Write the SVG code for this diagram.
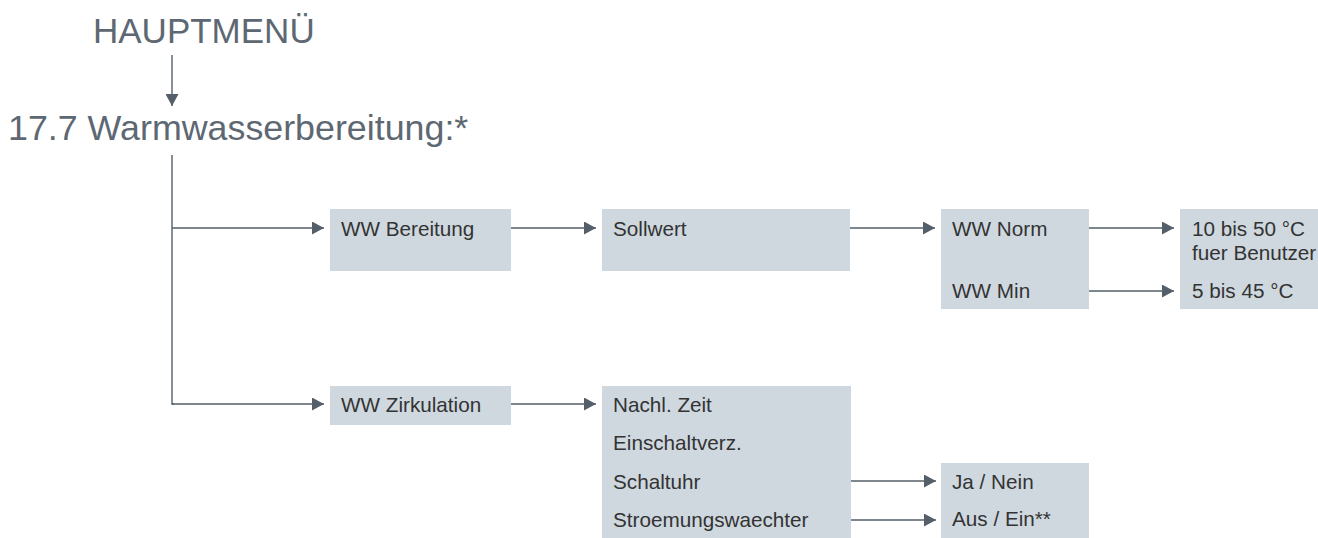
<svg xmlns="http://www.w3.org/2000/svg" width="1318" height="538" viewBox="0 0 1318 538">
<style>
.title{font-family:"Liberation Sans",Arial,sans-serif;font-size:35px;fill:#5d6873;}
.lbl{font-family:"Liberation Sans",Arial,sans-serif;font-size:20.7px;fill:#333333;}
.box{fill:#cfd8df;}
.ln{stroke:#555f69;stroke-width:1.4;fill:none;}
.arr{stroke:#555f69;stroke-width:1.4;fill:none;marker-end:url(#ah);}
</style>
<defs>
<marker id="ah" markerUnits="userSpaceOnUse" markerWidth="12" markerHeight="13" refX="12" refY="6.5" orient="auto">
<path d="M0,0 L12,6.5 L0,13 z" fill="#555f69"/>
</marker>
</defs>
<rect width="1318" height="538" fill="#ffffff"/>
<g id="hauptmenu"><text class="title" x="93" y="43">HAUPTMENÜ</text></g>
<g id="warmwasser"><text class="title" x="8" y="140" style="font-size:35.8px">17.7 Warmwasserbereitung:*</text></g>
<g id="connectors">
<line class="arr" x1="172" y1="55" x2="172" y2="106"/>
<polyline class="ln" points="172,155 172,404 174,404"/>
<line class="arr" x1="172" y1="228" x2="324" y2="228"/>
<line class="arr" x1="172" y1="404" x2="324" y2="404"/>
<line class="arr" x1="511" y1="228" x2="596" y2="228"/>
<line class="arr" x1="850" y1="228" x2="935" y2="228"/>
<line class="arr" x1="1089" y1="228" x2="1174" y2="228"/>
<line class="arr" x1="1089" y1="291" x2="1174" y2="291"/>
<line class="arr" x1="511" y1="404" x2="596" y2="404"/>
<line class="arr" x1="851" y1="481" x2="936" y2="481"/>
<line class="arr" x1="851" y1="520" x2="936" y2="520"/>
</g>
<g id="ww-bereitung"><rect class="box" x="330" y="209" width="181" height="62"/><text class="lbl" x="341" y="235.5">WW Bereitung</text></g>
<g id="sollwert"><rect class="box" x="602" y="209" width="248" height="62"/><text class="lbl" x="613" y="235.5">Sollwert</text></g>
<g id="ww-norm-min"><rect class="box" x="941" y="209" width="148" height="100"/><text class="lbl" x="952" y="235.5">WW Norm</text><text class="lbl" x="952" y="297.5">WW Min</text></g>
<g id="werte"><rect class="box" x="1180" y="209" width="138" height="100"/><text class="lbl" x="1192" y="235.5">10 bis 50 °C</text><text class="lbl" x="1192" y="260">fuer Benutzer</text><text class="lbl" x="1192" y="297.5">5 bis 45 °C</text></g>
<g id="ww-zirkulation"><rect class="box" x="330" y="386" width="181" height="39"/><text class="lbl" x="341" y="411.5">WW Zirkulation</text></g>
<g id="zirk-params"><rect class="box" x="602" y="386" width="249" height="152"/><text class="lbl" x="613" y="411.5">Nachl. Zeit</text><text class="lbl" x="613" y="450">Einschaltverz.</text><text class="lbl" x="613" y="488.5">Schaltuhr</text><text class="lbl" x="613" y="527">Stroemungswaechter</text></g>
<g id="ja-nein"><rect class="box" x="941" y="463" width="148" height="75"/><text class="lbl" x="952" y="488.5">Ja / Nein</text><text class="lbl" x="952" y="526">Aus / Ein**</text></g>
</svg>
